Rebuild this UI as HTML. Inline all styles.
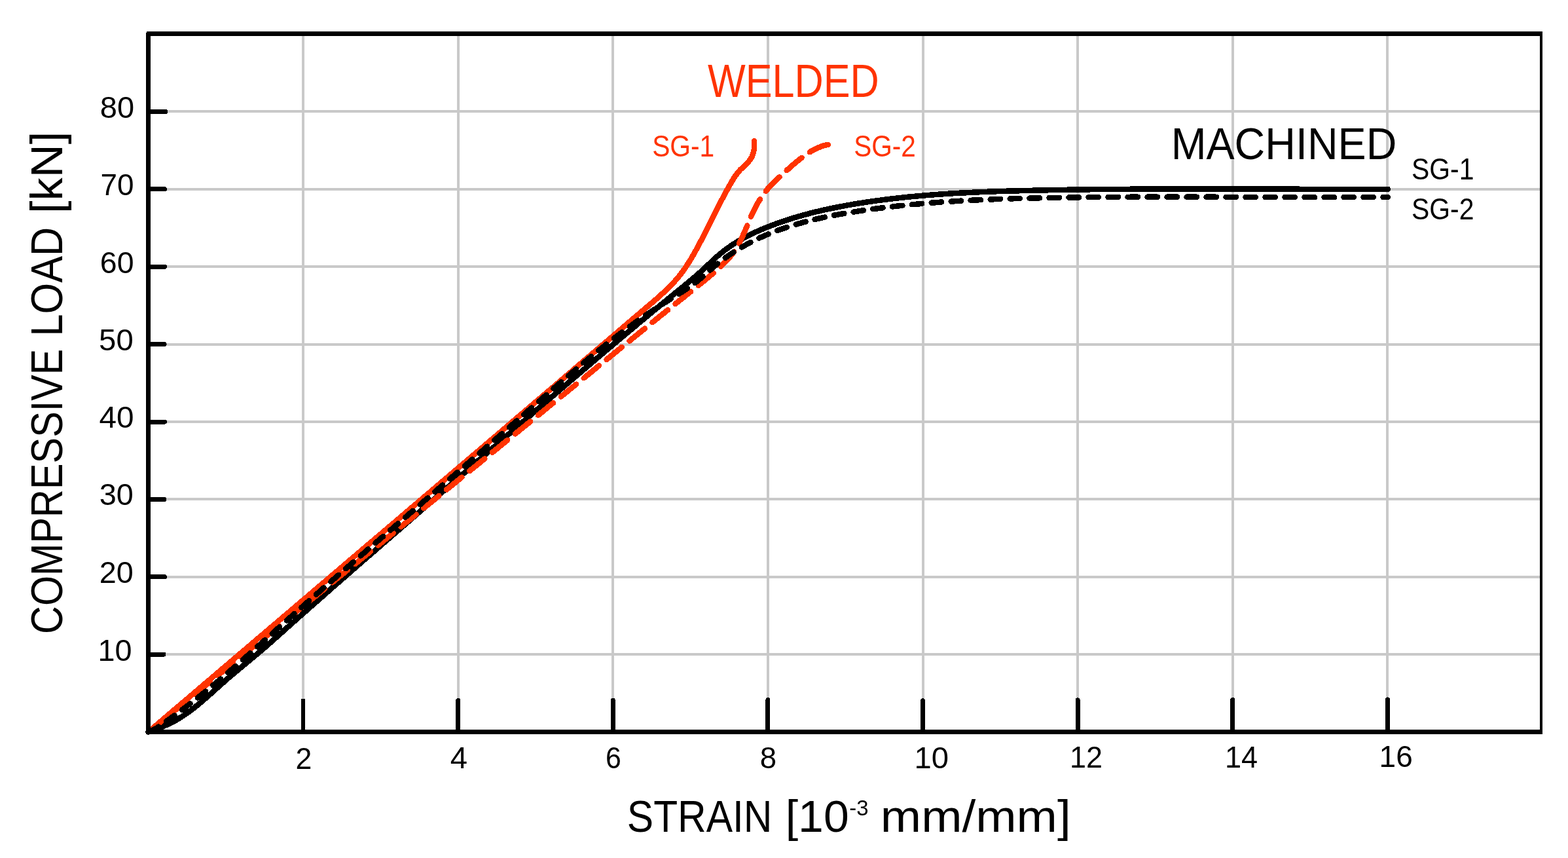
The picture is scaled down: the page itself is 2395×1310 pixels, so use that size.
<!DOCTYPE html>
<html lang="en"><head><meta charset="utf-8">
<title>Compressive load vs strain</title>
<style>html,body{margin:0;padding:0;background:#fff}body{width:2395px;height:1310px;overflow:hidden}svg{display:block}text{font-family:'Liberation Sans', sans-serif}</style>
</head><body>
<svg width="2395" height="1310" viewBox="0 0 2395 1310" shape-rendering="crispEdges">
<rect width="2395" height="1310" fill="#fff"/>
<path d="M226.5 999 H2354.0 M226.5 881 H2354.0 M226.5 762 H2354.0 M226.5 644 H2354.0 M226.5 526 H2354.0 M226.5 407 H2354.0 M226.5 289 H2354.0 M226.5 170 H2354.0 M463 51.5 V1117.6 M700 51.5 V1117.6 M936 51.5 V1117.6 M1173 51.5 V1117.6 M1410 51.5 V1117.6 M1646 51.5 V1117.6 M1883 51.5 V1117.6 M2119 51.5 V1117.6" fill="none" stroke="#c9c9c9" stroke-width="4"/>
<path d="M226.5 1117.6 C227.3 1116.9 229.9 1114.8 231.5 1113.4 C233.2 1111.9 234.9 1110.5 236.5 1109.1 C238.2 1107.7 239.9 1106.3 241.5 1104.8 C243.2 1103.4 244.9 1102.0 246.5 1100.6 C248.2 1099.2 249.9 1097.7 251.5 1096.3 C253.2 1094.9 254.9 1093.5 256.5 1092.0 C258.2 1090.6 259.9 1089.2 261.5 1087.8 C263.2 1086.4 264.9 1084.9 266.5 1083.5 C268.2 1082.1 269.9 1080.7 271.5 1079.3 C273.2 1077.8 274.9 1076.4 276.6 1075.0 C278.2 1073.6 279.9 1072.2 281.6 1070.7 C283.2 1069.3 284.9 1067.9 286.6 1066.5 C288.2 1065.0 289.9 1063.6 291.6 1062.2 C293.2 1060.8 294.9 1059.4 296.6 1057.9 C298.2 1056.5 299.9 1055.1 301.6 1053.7 C303.2 1052.3 304.9 1050.8 306.6 1049.4 C308.2 1048.0 309.9 1046.6 311.6 1045.2 C313.2 1043.7 314.9 1042.3 316.6 1040.9 C318.2 1039.5 319.9 1038.1 321.6 1036.6 C323.2 1035.2 324.9 1033.8 326.6 1032.4 C328.2 1031.0 329.9 1029.5 331.6 1028.1 C333.3 1026.7 334.9 1025.3 336.6 1023.8 C338.3 1022.4 339.9 1021.0 341.6 1019.6 C343.3 1018.2 344.9 1016.7 346.6 1015.3 C348.3 1013.9 349.9 1012.5 351.6 1011.1 C353.3 1009.6 354.9 1008.2 356.6 1006.8 C358.3 1005.4 359.9 1004.0 361.6 1002.5 C363.3 1001.1 364.9 999.7 366.6 998.3 C368.3 996.9 369.9 995.4 371.6 994.0 C373.3 992.6 375.0 991.2 376.6 989.8 C378.3 988.3 380.0 986.9 381.6 985.5 C383.3 984.1 385.0 982.7 386.6 981.2 C388.3 979.8 390.0 978.4 391.6 977.0 C393.3 975.6 395.0 974.1 396.6 972.7 C398.3 971.3 400.0 969.9 401.6 968.5 C403.3 967.0 405.0 965.6 406.7 964.2 C408.3 962.8 410.0 961.4 411.7 959.9 C413.3 958.5 415.0 957.1 416.7 955.7 C418.3 954.3 420.0 952.8 421.7 951.4 C423.3 950.0 425.0 948.6 426.7 947.2 C428.3 945.7 430.0 944.3 431.7 942.9 C433.3 941.5 435.0 940.1 436.7 938.6 C438.4 937.2 440.0 935.8 441.7 934.4 C443.4 933.0 445.0 931.5 446.7 930.1 C448.4 928.7 450.0 927.3 451.7 925.9 C453.4 924.4 455.0 923.0 456.7 921.6 C458.4 920.2 460.0 918.8 461.7 917.3 C463.4 915.9 465.0 914.5 466.7 913.1 C468.4 911.7 470.1 910.2 471.7 908.8 C473.4 907.4 475.1 906.0 476.7 904.6 C478.4 903.1 480.1 901.7 481.7 900.3 C483.4 898.9 485.1 897.5 486.7 896.0 C488.4 894.6 490.1 893.2 491.7 891.8 C493.4 890.4 495.1 888.9 496.8 887.5 C498.4 886.1 500.1 884.7 501.8 883.3 C503.4 881.8 505.1 880.4 506.8 879.0 C508.4 877.6 510.1 876.2 511.8 874.7 C513.4 873.3 515.1 871.9 516.8 870.5 C518.4 869.1 520.1 867.6 521.8 866.2 C523.5 864.8 525.1 863.4 526.8 862.0 C528.5 860.5 530.1 859.1 531.8 857.7 C533.5 856.3 535.1 854.9 536.8 853.4 C538.5 852.0 540.1 850.6 541.8 849.2 C543.5 847.8 545.1 846.3 546.8 844.9 C548.5 843.5 550.2 842.1 551.8 840.7 C553.5 839.2 555.2 837.8 556.8 836.4 C558.5 835.0 560.2 833.6 561.8 832.1 C563.5 830.7 565.2 829.3 566.8 827.9 C568.5 826.5 570.2 825.0 571.8 823.6 C573.5 822.2 575.2 820.8 576.9 819.4 C578.5 817.9 580.2 816.5 581.9 815.1 C583.5 813.7 585.2 812.3 586.9 810.8 C588.5 809.4 590.2 808.0 591.9 806.6 C593.5 805.2 595.2 803.7 596.9 802.3 C598.5 800.9 600.2 799.5 601.9 798.1 C603.5 796.6 605.2 795.2 606.9 793.8 C608.6 792.4 610.2 791.0 611.9 789.5 C613.6 788.1 615.2 786.7 616.9 785.3 C618.6 783.9 620.2 782.4 621.9 781.0 C623.6 779.6 625.2 778.2 626.9 776.8 C628.6 775.3 630.2 773.9 631.9 772.5 C633.6 771.1 635.3 769.7 636.9 768.2 C638.6 766.8 640.3 765.4 641.9 764.0 C643.6 762.6 645.3 761.1 646.9 759.7 C648.6 758.3 650.3 756.9 651.9 755.5 C653.6 754.0 655.3 752.6 656.9 751.2 C658.6 749.8 660.3 748.4 661.9 746.9 C663.6 745.5 665.3 744.1 667.0 742.7 C668.6 741.2 670.3 739.8 672.0 738.4 C673.6 737.0 675.3 735.6 677.0 734.1 C678.6 732.7 680.3 731.3 682.0 729.9 C683.6 728.5 685.3 727.0 687.0 725.6 C688.6 724.2 690.3 722.8 692.0 721.4 C693.6 719.9 695.3 718.5 697.0 717.1 C698.6 715.7 700.3 714.3 702.0 712.8 C703.7 711.4 705.3 710.0 707.0 708.6 C708.7 707.2 710.3 705.7 712.0 704.3 C713.7 702.9 715.3 701.5 717.0 700.1 C718.7 698.6 720.3 697.2 722.0 695.8 C723.7 694.4 725.3 693.0 727.0 691.5 C728.7 690.1 730.3 688.7 732.0 687.3 C733.7 685.9 735.3 684.4 737.0 683.0 C738.7 681.6 740.3 680.2 742.0 678.7 C743.7 677.3 745.4 675.9 747.0 674.5 C748.7 673.1 750.4 671.6 752.0 670.2 C753.7 668.8 755.4 667.4 757.0 666.0 C758.7 664.5 760.4 663.1 762.0 661.7 C763.7 660.3 765.4 658.9 767.0 657.4 C768.7 656.0 770.4 654.6 772.0 653.2 C773.7 651.8 775.4 650.3 777.0 648.9 C778.7 647.5 780.4 646.1 782.0 644.6 C783.7 643.2 785.4 641.8 787.0 640.4 C788.7 639.0 790.4 637.5 792.0 636.1 C793.7 634.7 795.4 633.3 797.0 631.9 C798.7 630.4 800.4 629.0 802.0 627.6 C803.7 626.2 805.4 624.8 807.0 623.3 C808.7 621.9 810.4 620.5 812.0 619.1 C813.7 617.6 815.4 616.2 817.0 614.8 C818.7 613.4 820.4 612.0 822.1 610.5 C823.7 609.1 825.4 607.7 827.1 606.3 C828.7 604.9 830.4 603.4 832.1 602.0 C833.7 600.6 835.4 599.2 837.1 597.7 C838.7 596.3 840.4 594.9 842.1 593.5 C843.7 592.1 845.4 590.6 847.1 589.2 C848.7 587.8 850.4 586.4 852.1 584.9 C853.7 583.5 855.4 582.1 857.1 580.7 C858.7 579.3 860.4 577.8 862.1 576.4 C863.7 575.0 865.4 573.6 867.1 572.2 C868.7 570.7 870.4 569.3 872.1 567.9 C873.7 566.5 875.4 565.0 877.0 563.6 C878.7 562.2 880.4 560.8 882.0 559.4 C883.7 557.9 885.4 556.5 887.0 555.1 C888.7 553.7 890.4 552.2 892.0 550.8 C893.7 549.4 895.4 548.0 897.0 546.6 C898.7 545.1 900.4 543.7 902.0 542.3 C903.7 540.9 905.4 539.4 907.0 538.0 C908.7 536.6 910.4 535.2 912.0 533.8 C913.7 532.3 915.4 530.9 917.0 529.5 C918.7 528.1 920.4 526.6 922.0 525.2 C923.7 523.8 925.4 522.4 927.0 521.0 C928.7 519.5 930.4 518.1 932.0 516.7 C933.7 515.3 935.4 513.8 937.0 512.4 C938.7 511.0 940.4 509.6 942.0 508.2 C943.7 506.7 945.4 505.3 947.0 503.9 C948.7 502.5 950.4 501.0 952.0 499.6 C953.7 498.2 955.4 496.8 957.0 495.3 C958.7 493.9 960.4 492.5 962.0 491.1 C963.7 489.7 965.4 488.2 967.0 486.8 C968.7 485.4 970.4 484.0 972.1 482.5 C973.7 481.1 975.4 479.7 977.1 478.3 C978.7 476.9 980.4 475.4 982.1 474.0 C983.8 472.6 985.4 471.2 987.1 469.7 C988.8 468.3 990.4 466.9 992.1 465.5 C993.8 464.1 995.5 462.6 997.1 461.2 C998.8 459.8 1000.5 458.3 1002.1 456.9 C1003.8 455.5 1005.4 454.0 1007.0 452.5 C1008.7 451.1 1010.3 449.6 1011.9 448.1 C1013.5 446.7 1015.1 445.2 1016.7 443.7 C1018.3 442.2 1019.9 440.6 1021.4 439.1 C1022.9 437.6 1024.5 436.0 1026.0 434.4 C1027.5 432.9 1029.0 431.3 1030.4 429.7 C1031.9 428.0 1033.3 426.4 1034.7 424.7 C1036.1 423.1 1037.5 421.4 1038.8 419.7 C1040.2 418.0 1041.5 416.2 1042.8 414.5 C1044.1 412.7 1045.3 410.9 1046.6 409.1 C1047.8 407.3 1049.0 405.5 1050.2 403.6 C1051.4 401.8 1052.6 399.9 1053.7 398.0 C1054.9 396.2 1056.0 394.3 1057.1 392.4 C1058.2 390.5 1059.3 388.6 1060.4 386.6 C1061.5 384.7 1062.6 382.8 1063.6 380.9 C1064.7 378.9 1065.7 377.0 1066.8 375.1 C1067.8 373.1 1068.8 371.2 1069.9 369.2 C1070.9 367.3 1071.9 365.3 1072.9 363.4 C1073.9 361.4 1074.9 359.5 1075.9 357.5 C1076.9 355.6 1077.9 353.6 1078.9 351.7 C1079.9 349.7 1080.9 347.8 1081.8 345.8 C1082.8 343.8 1083.8 341.9 1084.8 339.9 C1085.8 338.0 1086.7 336.0 1087.7 334.1 C1088.7 332.1 1089.7 330.2 1090.7 328.2 C1091.6 326.2 1092.6 324.3 1093.6 322.3 C1094.6 320.4 1095.6 318.4 1096.6 316.5 C1097.6 314.5 1098.5 312.6 1099.5 310.7 C1100.5 308.7 1101.6 306.8 1102.6 304.8 C1103.6 302.9 1104.6 301.0 1105.6 299.0 C1106.7 297.1 1107.7 295.2 1108.7 293.3 C1109.8 291.3 1110.8 289.4 1111.9 287.5 C1113.0 285.6 1114.0 283.7 1115.1 281.8 C1116.2 279.9 1117.3 278.0 1118.4 276.1 C1119.6 274.2 1120.7 272.3 1121.9 270.5 C1123.1 268.7 1124.4 266.9 1125.7 265.2 C1127.0 263.4 1128.5 261.8 1129.9 260.1 C1131.4 258.5 1133.1 257.0 1134.7 255.5 C1136.3 253.9 1137.9 252.4 1139.5 250.9 C1141.0 249.3 1142.6 247.8 1144.0 246.1 C1145.4 244.4 1146.6 242.7 1147.7 240.8 C1148.7 239.0 1149.6 236.9 1150.2 234.9 C1150.9 232.8 1151.4 230.6 1151.7 228.4 C1152.1 226.2 1152.2 224.0 1152.2 221.8 C1152.3 219.6 1152.0 216.3 1152.0 215.2" fill="none" stroke="#ff3300" stroke-width="8.5" stroke-linecap="round" stroke-linejoin="round"/>
<path d="M226.5 1117.6 C228.4 1116.9 234.0 1114.6 237.8 1113.1 C241.7 1111.7 245.7 1110.5 249.5 1109.0 C253.3 1107.5 256.9 1105.8 260.5 1104.0 C264.1 1102.3 267.6 1100.3 271.1 1098.3 C274.5 1096.3 277.9 1094.1 281.2 1091.9 C284.5 1089.7 287.8 1087.4 291.0 1085.0 C294.2 1082.6 297.3 1080.1 300.4 1077.6 C303.6 1075.1 306.6 1072.5 309.7 1069.9 C312.7 1067.3 315.8 1064.6 318.8 1062.0 C321.8 1059.3 324.8 1056.6 327.8 1053.9 C330.8 1051.2 333.8 1048.5 336.8 1045.8 C339.9 1043.1 342.9 1040.4 345.9 1037.7 C349.0 1035.1 352.0 1032.5 355.1 1029.9 C358.2 1027.2 361.3 1024.7 364.4 1022.1 C367.5 1019.5 370.6 1016.9 373.7 1014.4 C376.8 1011.8 379.9 1009.2 383.0 1006.7 C386.1 1004.1 389.2 1001.5 392.3 998.9 C395.4 996.3 398.5 993.7 401.5 991.1 C404.6 988.5 407.6 985.8 410.7 983.2 C413.7 980.5 416.7 977.8 419.7 975.2 C422.8 972.5 425.8 969.8 428.8 967.1 C431.8 964.4 434.8 961.7 437.8 959.0 C440.8 956.4 443.8 953.7 446.8 951.0 C449.9 948.3 452.9 945.6 455.9 942.9 C458.9 940.3 461.9 937.6 464.9 934.9 C468.0 932.2 471.0 929.6 474.0 926.9 C477.0 924.2 480.0 921.5 483.1 918.9 C486.1 916.2 489.1 913.5 492.2 910.9 C495.2 908.2 498.2 905.6 501.2 902.9 C504.3 900.2 507.3 897.6 510.3 894.9 C513.4 892.3 516.4 889.6 519.5 886.9 C522.5 884.3 525.5 881.6 528.6 879.0 C531.6 876.3 534.6 873.7 537.7 871.0 C540.7 868.4 543.8 865.7 546.8 863.1 C549.9 860.4 552.9 857.8 555.9 855.1 C559.0 852.5 562.0 849.8 565.1 847.2 C568.1 844.6 571.2 841.9 574.2 839.3 C577.3 836.6 580.3 834.0 583.4 831.3 C586.4 828.7 589.4 826.0 592.5 823.4 C595.5 820.8 598.6 818.1 601.6 815.5 C604.7 812.8 607.7 810.2 610.8 807.5 C613.8 804.9 616.9 802.3 619.9 799.6 C623.0 797.0 626.0 794.3 629.1 791.7 C632.1 789.0 635.2 786.4 638.2 783.7 C641.2 781.1 644.3 778.5 647.3 775.8 C650.4 773.2 653.4 770.5 656.5 767.9 C659.5 765.2 662.6 762.6 665.6 759.9 C668.6 757.3 671.7 754.6 674.7 752.0 C677.8 749.3 680.8 746.7 683.9 744.0 C686.9 741.4 689.9 738.7 693.0 736.1 C696.0 733.4 699.1 730.8 702.1 728.1 C705.2 725.5 708.2 722.8 711.2 720.2 C714.3 717.5 717.3 714.9 720.4 712.2 C723.4 709.6 726.4 706.9 729.5 704.3 C732.5 701.6 735.6 699.0 738.6 696.3 C741.7 693.7 744.7 691.0 747.7 688.4 C750.8 685.7 753.8 683.1 756.9 680.5 C759.9 677.8 763.0 675.2 766.0 672.5 C769.1 669.9 772.1 667.2 775.2 664.6 C778.2 661.9 781.2 659.3 784.3 656.6 C787.3 654.0 790.4 651.4 793.4 648.7 C796.5 646.1 799.5 643.4 802.6 640.8 C805.6 638.2 808.7 635.5 811.7 632.9 C814.8 630.2 817.8 627.6 820.9 625.0 C823.9 622.3 827.0 619.7 830.1 617.1 C833.1 614.4 836.2 611.8 839.2 609.1 C842.3 606.5 845.3 603.9 848.4 601.3 C851.5 598.6 854.5 596.0 857.6 593.4 C860.6 590.7 863.7 588.1 866.8 585.5 C869.8 582.9 872.9 580.2 876.0 577.6 C879.0 575.0 882.1 572.4 885.2 569.8 C888.2 567.1 891.3 564.5 894.4 561.9 C897.4 559.3 900.5 556.7 903.6 554.1 C906.7 551.5 909.7 548.8 912.8 546.2 C915.9 543.6 919.0 541.0 922.0 538.4 C925.1 535.8 928.2 533.2 931.3 530.6 C934.4 528.0 937.4 525.4 940.5 522.8 C943.6 520.2 946.7 517.6 949.8 515.0 C952.9 512.4 956.0 509.8 959.1 507.2 C962.2 504.7 965.3 502.1 968.3 499.5 C971.4 496.9 974.5 494.3 977.6 491.7 C980.7 489.2 983.8 486.6 986.9 484.0 C990.1 481.4 993.2 478.9 996.3 476.3 C999.4 473.7 1002.5 471.2 1005.6 468.6 C1008.7 466.0 1011.8 463.5 1014.9 460.9 C1018.1 458.3 1021.2 455.8 1024.3 453.2 C1027.4 450.7 1030.5 448.1 1033.7 445.6 C1036.8 443.0 1039.9 440.5 1043.1 437.9 C1046.2 435.4 1049.3 432.8 1052.4 430.3 C1055.5 427.7 1058.6 425.1 1061.7 422.5 C1064.7 419.9 1067.8 417.2 1070.7 414.5 C1073.7 411.8 1076.6 409.0 1079.6 406.3 C1082.5 403.5 1085.4 400.7 1088.4 398.0 C1091.3 395.3 1094.3 392.5 1097.3 389.9 C1100.4 387.3 1103.5 384.8 1106.6 382.4 C1109.8 379.9 1113.1 377.6 1116.4 375.3 C1119.7 373.1 1123.1 370.9 1126.5 368.8 C1129.9 366.8 1133.4 364.8 1136.9 362.9 C1140.5 360.9 1144.1 359.1 1147.7 357.3 C1151.4 355.6 1155.0 353.9 1158.8 352.3 C1162.5 350.6 1166.2 349.1 1170.0 347.5 C1173.7 346.0 1177.5 344.6 1181.3 343.2 C1185.1 341.7 1188.9 340.4 1192.7 339.0 C1196.5 337.7 1200.4 336.5 1204.2 335.2 C1208.1 334.0 1211.9 332.8 1215.8 331.6 C1219.7 330.5 1223.5 329.4 1227.4 328.3 C1231.3 327.3 1235.2 326.2 1239.1 325.2 C1243.0 324.2 1246.9 323.3 1250.9 322.3 C1254.8 321.4 1258.7 320.5 1262.7 319.7 C1266.6 318.8 1270.5 318.0 1274.5 317.2 C1278.5 316.4 1282.4 315.6 1286.4 314.9 C1290.3 314.1 1294.3 313.4 1298.3 312.7 C1302.2 312.0 1306.2 311.4 1310.2 310.7 C1314.2 310.1 1318.2 309.4 1322.2 308.8 C1326.1 308.2 1330.1 307.7 1334.1 307.1 C1338.1 306.5 1342.1 306.0 1346.1 305.5 C1350.1 304.9 1354.1 304.4 1358.1 303.9 C1362.1 303.5 1366.1 303.0 1370.1 302.5 C1374.1 302.1 1378.1 301.7 1382.1 301.2 C1386.1 300.8 1390.1 300.4 1394.1 300.0 C1398.1 299.7 1402.1 299.3 1406.2 298.9 C1410.2 298.6 1414.2 298.3 1418.2 297.9 C1422.2 297.6 1426.2 297.3 1430.3 297.0 C1434.3 296.7 1438.3 296.4 1442.3 296.2 C1446.4 295.9 1450.4 295.6 1454.4 295.4 C1458.4 295.1 1462.5 294.9 1466.5 294.7 C1470.5 294.5 1474.5 294.3 1478.6 294.1 C1482.6 293.9 1486.6 293.7 1490.7 293.5 C1494.7 293.3 1498.7 293.1 1502.8 293.0 C1506.8 292.8 1510.8 292.6 1514.9 292.5 C1518.9 292.4 1522.9 292.2 1527.0 292.1 C1531.0 292.0 1535.0 291.8 1539.1 291.7 C1543.1 291.6 1547.2 291.5 1551.2 291.4 C1555.2 291.3 1559.3 291.2 1563.3 291.1 C1567.3 291.0 1571.4 290.9 1575.4 290.8 C1579.4 290.7 1583.5 290.6 1587.5 290.5 C1591.6 290.4 1595.6 290.4 1599.6 290.3 C1603.7 290.2 1607.7 290.1 1611.7 290.1 C1615.8 290.0 1619.8 289.9 1623.8 289.9 C1627.9 289.8 1631.9 289.7 1635.9 289.7 C1640.0 289.6 1644.0 289.6 1648.0 289.5 C1652.1 289.4 1656.1 289.4 1660.2 289.3 C1664.2 289.3 1668.2 289.2 1672.3 289.2 C1676.3 289.2 1680.3 289.1 1684.4 289.1 C1688.4 289.0 1692.4 289.0 1696.5 289.0 C1700.5 288.9 1704.5 288.9 1708.6 288.9 C1712.6 288.8 1716.6 288.8 1720.7 288.8 C1724.7 288.8 1728.7 288.7 1732.8 288.7 C1736.8 288.7 1740.8 288.7 1744.9 288.6 C1748.9 288.6 1752.9 288.6 1757.0 288.6 C1761.0 288.6 1765.0 288.6 1769.1 288.6 C1773.1 288.5 1777.1 288.5 1781.2 288.5 C1785.2 288.5 1789.2 288.5 1793.3 288.5 C1797.3 288.5 1801.3 288.5 1805.3 288.5 C1809.4 288.5 1813.4 288.5 1817.4 288.5 C1821.5 288.5 1825.5 288.5 1829.5 288.5 C1833.6 288.5 1837.6 288.5 1841.6 288.5 C1845.7 288.5 1849.7 288.5 1853.7 288.5 C1857.8 288.5 1861.8 288.5 1865.8 288.5 C1869.9 288.5 1873.9 288.5 1877.9 288.5 C1882.0 288.5 1886.0 288.5 1890.0 288.5 C1894.1 288.5 1898.1 288.6 1902.1 288.6 C1906.2 288.6 1910.2 288.6 1914.2 288.6 C1918.3 288.6 1922.3 288.6 1926.3 288.6 C1930.4 288.6 1934.4 288.6 1938.4 288.6 C1942.5 288.7 1946.5 288.7 1950.5 288.7 C1954.6 288.7 1958.6 288.7 1962.6 288.7 C1966.7 288.7 1970.7 288.7 1974.7 288.7 C1978.8 288.7 1982.8 288.7 1986.8 288.8 C1990.9 288.8 1994.9 288.8 1998.9 288.8 C2003.0 288.8 2007.0 288.8 2011.1 288.8 C2015.1 288.8 2019.1 288.8 2023.2 288.8 C2027.2 288.8 2031.2 288.8 2035.3 288.8 C2039.3 288.8 2043.3 288.8 2047.4 288.8 C2051.4 288.8 2055.4 288.8 2059.5 288.8 C2063.5 288.8 2067.6 288.8 2071.6 288.8 C2075.6 288.8 2079.7 288.8 2083.7 288.8 C2087.7 288.8 2091.8 288.8 2095.8 288.8 C2099.9 288.8 2103.9 288.8 2107.9 288.8 C2112.0 288.8 2118.0 288.8 2120.0 288.8" fill="none" stroke="#000" stroke-width="8.5" stroke-linecap="round" stroke-linejoin="round"/>
<path d="M226.5 1117.6 C227.4 1116.9 230.1 1114.7 231.9 1113.2 C233.7 1111.8 235.5 1110.3 237.3 1108.9 C239.1 1107.4 240.9 1105.9 242.7 1104.5 C244.5 1103.0 246.3 1101.6 248.1 1100.1 C249.9 1098.6 251.7 1097.2 253.5 1095.7 C255.3 1094.2 257.1 1092.8 258.9 1091.3 C260.7 1089.9 262.5 1088.4 264.3 1086.9 C266.1 1085.5 267.9 1084.0 269.7 1082.5 C271.5 1081.1 273.3 1079.6 275.1 1078.2 C276.9 1076.7 278.7 1075.2 280.5 1073.8 C282.3 1072.3 284.0 1070.9 285.8 1069.4 C287.6 1067.9 289.4 1066.5 291.2 1065.0 C293.0 1063.6 294.8 1062.1 296.6 1060.6 C298.4 1059.2 300.2 1057.7 302.0 1056.2 C303.8 1054.8 305.6 1053.3 307.4 1051.9 C309.2 1050.4 311.0 1048.9 312.8 1047.5 C314.6 1046.0 316.4 1044.6 318.2 1043.1 C320.0 1041.6 321.8 1040.2 323.6 1038.7 C325.4 1037.2 327.2 1035.8 329.0 1034.3 C330.8 1032.9 332.6 1031.4 334.4 1029.9 C336.2 1028.5 338.0 1027.0 339.8 1025.6 C341.6 1024.1 343.4 1022.6 345.2 1021.2 C347.0 1019.7 348.8 1018.3 350.6 1016.8 C352.4 1015.3 354.2 1013.9 356.0 1012.4 C357.8 1011.0 359.6 1009.5 361.4 1008.0 C363.2 1006.6 365.0 1005.1 366.8 1003.6 C368.6 1002.2 370.4 1000.7 372.2 999.3 C374.0 997.8 375.8 996.3 377.6 994.9 C379.4 993.4 381.2 992.0 382.9 990.5 C384.7 989.0 386.5 987.6 388.3 986.1 C390.1 984.7 391.9 983.2 393.7 981.7 C395.5 980.3 397.3 978.8 399.1 977.4 C400.9 975.9 402.7 974.4 404.5 973.0 C406.3 971.5 408.1 970.1 409.9 968.6 C411.7 967.1 413.5 965.7 415.3 964.2 C417.1 962.7 418.9 961.3 420.7 959.8 C422.5 958.4 424.3 956.9 426.1 955.4 C427.9 954.0 429.7 952.5 431.5 951.1 C433.3 949.6 435.1 948.1 436.9 946.7 C438.7 945.2 440.5 943.8 442.3 942.3 C444.1 940.8 445.9 939.4 447.7 937.9 C449.5 936.5 451.3 935.0 453.1 933.5 C454.9 932.1 456.7 930.6 458.5 929.2 C460.3 927.7 462.1 926.2 463.9 924.8 C465.7 923.3 467.5 921.9 469.3 920.4 C471.1 918.9 472.9 917.5 474.7 916.0 C476.5 914.6 478.3 913.1 480.1 911.6 C481.9 910.2 483.7 908.7 485.5 907.3 C487.3 905.8 489.1 904.3 490.9 902.9 C492.7 901.4 494.5 900.0 496.3 898.5 C498.1 897.0 499.9 895.6 501.7 894.1 C503.5 892.6 505.2 891.2 507.0 889.7 C508.8 888.3 510.6 886.8 512.4 885.3 C514.2 883.9 516.0 882.4 517.8 881.0 C519.6 879.5 521.4 878.0 523.2 876.6 C525.0 875.1 526.8 873.7 528.6 872.2 C530.4 870.7 532.2 869.3 534.0 867.8 C535.8 866.4 537.6 864.9 539.4 863.4 C541.2 862.0 543.0 860.5 544.8 859.1 C546.6 857.6 548.4 856.1 550.2 854.7 C552.0 853.2 553.8 851.8 555.6 850.3 C557.4 848.8 559.2 847.4 561.0 845.9 C562.8 844.5 564.6 843.0 566.4 841.5 C568.2 840.1 570.0 838.6 571.8 837.2 C573.6 835.7 575.4 834.2 577.2 832.8 C579.0 831.3 580.8 829.9 582.6 828.4 C584.4 826.9 586.2 825.5 588.0 824.0 C589.8 822.6 591.6 821.1 593.4 819.6 C595.2 818.2 597.0 816.7 598.8 815.3 C600.6 813.8 602.4 812.3 604.2 810.9 C606.0 809.4 607.8 807.9 609.6 806.5 C611.4 805.0 613.2 803.6 615.0 802.1 C616.8 800.6 618.6 799.2 620.4 797.7 C622.2 796.3 624.0 794.8 625.8 793.3 C627.6 791.9 629.4 790.4 631.2 789.0 C633.0 787.5 634.8 786.0 636.5 784.6 C638.3 783.1 640.1 781.7 641.9 780.2 C643.7 778.7 645.5 777.3 647.3 775.8 C649.1 774.4 650.9 772.9 652.7 771.4 C654.5 770.0 656.3 768.5 658.1 767.1 C659.9 765.6 661.7 764.1 663.5 762.7 C665.3 761.2 667.1 759.8 668.9 758.3 C670.7 756.8 672.5 755.4 674.3 753.9 C676.1 752.5 677.9 751.0 679.7 749.5 C681.5 748.1 683.3 746.6 685.1 745.1 C686.9 743.7 688.7 742.2 690.5 740.8 C692.3 739.3 694.1 737.8 695.9 736.4 C697.7 734.9 699.5 733.5 701.3 732.0 C703.1 730.5 704.9 729.1 706.7 727.6 C708.5 726.2 710.3 724.7 712.1 723.2 C713.9 721.8 715.7 720.3 717.5 718.9 C719.3 717.4 721.1 715.9 722.9 714.5 C724.7 713.0 726.5 711.6 728.3 710.1 C730.1 708.6 731.9 707.2 733.7 705.7 C735.5 704.2 737.3 702.8 739.1 701.3 C740.9 699.9 742.7 698.4 744.5 696.9 C746.3 695.5 748.0 694.0 749.8 692.6 C751.6 691.1 753.4 689.6 755.2 688.2 C757.0 686.7 758.8 685.3 760.6 683.8 C762.4 682.3 764.2 680.9 766.0 679.4 C767.8 677.9 769.6 676.5 771.4 675.0 C773.2 673.6 775.0 672.1 776.8 670.6 C778.6 669.2 780.4 667.7 782.2 666.3 C784.0 664.8 785.8 663.3 787.6 661.9 C789.4 660.4 791.2 659.0 793.0 657.5 C794.8 656.0 796.6 654.6 798.4 653.1 C800.2 651.6 802.0 650.2 803.8 648.7 C805.6 647.3 807.4 645.8 809.2 644.3 C811.0 642.9 812.8 641.4 814.6 640.0 C816.4 638.5 818.2 637.0 820.0 635.6 C821.8 634.1 823.6 632.6 825.4 631.2 C827.2 629.7 829.0 628.3 830.8 626.8 C832.6 625.3 834.4 623.9 836.2 622.4 C837.9 621.0 839.7 619.5 841.5 618.0 C843.3 616.6 845.1 615.1 846.9 613.6 C848.7 612.2 850.5 610.7 852.3 609.3 C854.1 607.8 855.9 606.3 857.7 604.9 C859.5 603.4 861.3 602.0 863.1 600.5 C864.9 599.0 866.7 597.6 868.5 596.1 C870.3 594.6 872.1 593.2 873.9 591.7 C875.7 590.3 877.5 588.8 879.3 587.3 C881.1 585.9 882.9 584.4 884.7 582.9 C886.5 581.5 888.3 580.0 890.1 578.6 C891.9 577.1 893.7 575.6 895.5 574.2 C897.3 572.7 899.1 571.2 900.9 569.8 C902.7 568.3 904.5 566.9 906.3 565.4 C908.1 563.9 909.8 562.5 911.6 561.0 C913.4 559.5 915.2 558.1 917.0 556.6 C918.8 555.2 920.6 553.7 922.4 552.2 C924.2 550.8 926.0 549.3 927.8 547.9 C929.6 546.4 931.4 544.9 933.2 543.5 C935.0 542.0 936.8 540.5 938.6 539.1 C940.4 537.6 942.2 536.2 944.0 534.7 C945.8 533.2 947.6 531.8 949.4 530.3 C951.2 528.9 953.0 527.4 954.8 525.9 C956.6 524.5 958.4 523.0 960.2 521.6 C962.0 520.1 963.8 518.6 965.6 517.2 C967.4 515.7 969.2 514.3 971.0 512.8 C972.8 511.4 974.6 509.9 976.4 508.4 C978.2 507.0 980.0 505.5 981.8 504.1 C983.6 502.6 985.4 501.2 987.2 499.7 C989.0 498.2 990.8 496.8 992.6 495.3 C994.4 493.9 996.2 492.4 998.0 491.0 C999.8 489.5 1001.6 488.1 1003.4 486.6 C1005.2 485.2 1007.0 483.7 1008.8 482.2 C1010.6 480.8 1012.5 479.3 1014.3 477.9 C1016.1 476.4 1017.9 475.0 1019.7 473.5 C1021.5 472.1 1023.3 470.6 1025.1 469.2 C1026.9 467.7 1028.7 466.3 1030.5 464.8 C1032.3 463.4 1034.1 461.9 1035.9 460.5 C1037.7 459.0 1039.5 457.6 1041.4 456.2 C1043.2 454.7 1045.0 453.3 1046.8 451.8 C1048.6 450.4 1050.4 448.9 1052.2 447.5 C1054.0 446.0 1055.8 444.6 1057.6 443.1 C1059.5 441.7 1061.3 440.3 1063.1 438.8 C1064.9 437.4 1066.7 435.9 1068.5 434.4 C1070.3 433.0 1072.1 431.5 1073.9 430.1 C1075.7 428.6 1077.4 427.1 1079.2 425.6 C1081.0 424.2 1082.8 422.7 1084.6 421.2 C1086.3 419.7 1088.1 418.1 1089.8 416.6 C1091.6 415.1 1093.3 413.6 1095.1 412.0 C1096.8 410.5 1098.5 408.9 1100.2 407.3 C1101.9 405.7 1103.6 404.1 1105.2 402.5 C1106.9 400.8 1108.5 399.2 1110.1 397.5 C1111.7 395.8 1113.3 394.1 1114.8 392.4 C1116.3 390.7 1117.8 388.9 1119.2 387.1 C1120.6 385.2 1121.9 383.4 1123.2 381.5 C1124.4 379.5 1125.6 377.6 1126.8 375.6 C1127.9 373.6 1129.0 371.6 1130.1 369.5 C1131.1 367.5 1132.1 365.4 1133.1 363.3 C1134.1 361.2 1135.0 359.1 1135.9 356.9 C1136.9 354.8 1137.8 352.7 1138.7 350.5 C1139.6 348.4 1140.5 346.3 1141.4 344.1 C1142.3 342.0 1143.2 339.8 1144.1 337.7 C1145.0 335.6 1145.9 333.4 1146.9 331.3 C1147.8 329.2 1148.7 327.1 1149.7 324.9 C1150.7 322.8 1151.7 320.8 1152.8 318.7 C1153.8 316.6 1154.9 314.6 1156.0 312.5 C1157.1 310.5 1158.3 308.5 1159.5 306.5 C1160.7 304.6 1161.9 302.6 1163.2 300.7 C1164.5 298.8 1165.8 296.9 1167.2 295.1 C1168.6 293.3 1170.0 291.5 1171.5 289.7 C1173.0 287.9 1174.6 286.2 1176.1 284.5 C1177.7 282.8 1179.3 281.2 1181.0 279.5 C1182.6 277.9 1184.3 276.3 1185.9 274.7 C1187.6 273.1 1189.3 271.5 1191.0 269.9 C1192.7 268.3 1194.4 266.7 1196.1 265.2 C1197.8 263.6 1199.5 262.0 1201.3 260.5 C1203.0 259.0 1204.7 257.4 1206.5 255.9 C1208.2 254.4 1209.9 252.8 1211.7 251.3 C1213.5 249.8 1215.2 248.3 1217.0 246.8 C1218.8 245.3 1220.6 243.9 1222.5 242.4 C1224.3 241.0 1226.1 239.6 1228.0 238.2 C1229.9 236.9 1231.8 235.6 1233.7 234.3 C1235.6 233.0 1237.6 231.8 1239.6 230.6 C1241.6 229.5 1243.6 228.4 1245.7 227.4 C1247.7 226.4 1249.8 225.4 1252.0 224.6 C1254.1 223.7 1256.3 222.9 1258.6 222.3 C1260.8 221.6 1264.3 220.9 1265.4 220.6" fill="none" stroke="#ff3300" stroke-width="8.5" stroke-linecap="round" stroke-linejoin="round" stroke-dasharray="30 15" stroke-dashoffset="-2"/>
<path d="M226.5 1117.6 C228.3 1116.7 234.1 1114.4 237.6 1112.5 C241.1 1110.5 244.3 1108.0 247.6 1105.7 C250.9 1103.4 254.2 1101.1 257.5 1098.8 C260.8 1096.5 264.1 1094.1 267.3 1091.7 C270.6 1089.4 273.8 1087.0 277.0 1084.6 C280.3 1082.2 283.5 1079.7 286.7 1077.3 C289.9 1074.8 293.1 1072.4 296.2 1069.9 C299.4 1067.4 302.6 1064.9 305.7 1062.4 C308.9 1059.9 312.0 1057.3 315.1 1054.8 C318.2 1052.2 321.4 1049.7 324.5 1047.1 C327.6 1044.5 330.7 1041.9 333.8 1039.3 C336.9 1036.7 339.9 1034.1 343.0 1031.5 C346.1 1028.9 349.1 1026.3 352.2 1023.6 C355.3 1021.0 358.3 1018.3 361.4 1015.7 C364.4 1013.0 367.4 1010.4 370.5 1007.7 C373.5 1005.0 376.5 1002.3 379.6 999.7 C382.6 997.0 385.6 994.3 388.6 991.6 C391.7 988.9 394.7 986.2 397.7 983.5 C400.7 980.8 403.7 978.1 406.7 975.4 C409.8 972.7 412.8 970.0 415.8 967.3 C418.8 964.6 421.8 961.9 424.8 959.2 C427.8 956.5 430.9 953.8 433.9 951.1 C436.9 948.4 439.9 945.7 442.9 943.0 C446.0 940.3 449.0 937.6 452.0 935.0 C455.0 932.3 458.1 929.6 461.1 926.9 C464.1 924.2 467.1 921.6 470.2 918.9 C473.2 916.2 476.3 913.5 479.3 910.9 C482.3 908.2 485.4 905.5 488.4 902.9 C491.4 900.2 494.5 897.5 497.5 894.9 C500.6 892.2 503.6 889.6 506.7 886.9 C509.7 884.3 512.8 881.6 515.8 879.0 C518.9 876.3 521.9 873.7 525.0 871.0 C528.0 868.4 531.1 865.7 534.1 863.1 C537.2 860.4 540.2 857.8 543.3 855.1 C546.3 852.5 549.4 849.8 552.5 847.2 C555.5 844.6 558.6 841.9 561.6 839.3 C564.7 836.7 567.8 834.0 570.8 831.4 C573.9 828.7 576.9 826.1 580.0 823.5 C583.1 820.8 586.1 818.2 589.2 815.6 C592.2 812.9 595.3 810.3 598.4 807.7 C601.4 805.0 604.5 802.4 607.5 799.8 C610.6 797.1 613.7 794.5 616.7 791.8 C619.8 789.2 622.9 786.6 625.9 783.9 C629.0 781.3 632.0 778.7 635.1 776.0 C638.2 773.4 641.2 770.8 644.3 768.1 C647.3 765.5 650.4 762.9 653.5 760.2 C656.5 757.6 659.6 754.9 662.6 752.3 C665.7 749.7 668.8 747.0 671.8 744.4 C674.9 741.8 677.9 739.1 681.0 736.5 C684.0 733.8 687.1 731.2 690.2 728.6 C693.2 725.9 696.3 723.3 699.3 720.6 C702.4 718.0 705.4 715.3 708.5 712.7 C711.5 710.1 714.6 707.4 717.7 704.8 C720.7 702.1 723.8 699.5 726.8 696.8 C729.9 694.2 732.9 691.5 736.0 688.9 C739.0 686.2 742.1 683.6 745.1 680.9 C748.2 678.3 751.2 675.6 754.3 673.0 C757.3 670.3 760.4 667.7 763.4 665.0 C766.5 662.4 769.5 659.7 772.6 657.0 C775.6 654.4 778.7 651.7 781.7 649.1 C784.8 646.4 787.8 643.7 790.9 641.1 C793.9 638.4 796.9 635.8 800.0 633.1 C803.0 630.4 806.1 627.8 809.1 625.1 C812.2 622.4 815.2 619.8 818.2 617.1 C821.3 614.4 824.3 611.8 827.4 609.1 C830.4 606.4 833.5 603.8 836.5 601.1 C839.6 598.4 842.6 595.8 845.7 593.1 C848.7 590.5 851.8 587.8 854.8 585.2 C857.9 582.5 861.0 579.9 864.0 577.2 C867.1 574.6 870.2 572.0 873.2 569.4 C876.3 566.7 879.4 564.1 882.5 561.5 C885.6 558.9 888.7 556.3 891.8 553.7 C894.9 551.1 898.0 548.6 901.1 546.0 C904.2 543.4 907.3 540.9 910.5 538.3 C913.6 535.8 916.8 533.3 919.9 530.7 C923.1 528.2 926.2 525.7 929.4 523.2 C932.6 520.7 935.7 518.3 938.9 515.8 C942.1 513.3 945.3 510.9 948.6 508.5 C951.8 506.0 955.0 503.6 958.2 501.2 C961.5 498.8 964.7 496.5 968.0 494.1 C971.3 491.8 974.5 489.4 977.8 487.1 C981.1 484.8 984.4 482.5 987.8 480.2 C991.1 477.9 994.4 475.7 997.8 473.5 C1001.1 471.2 1004.5 469.0 1007.9 466.8 C1011.3 464.6 1014.7 462.5 1018.1 460.4 C1021.5 458.2 1025.0 456.1 1028.4 454.0 C1031.8 451.9 1035.3 449.8 1038.7 447.6 C1042.1 445.4 1045.5 443.3 1048.8 441.0 C1052.2 438.8 1055.5 436.5 1058.7 434.1 C1062.0 431.7 1065.1 429.3 1068.2 426.7 C1071.4 424.2 1074.4 421.5 1077.4 418.8 C1080.4 416.1 1083.4 413.4 1086.5 410.7 C1089.5 408.1 1092.6 405.4 1095.7 402.9 C1098.9 400.4 1102.1 397.9 1105.3 395.5 C1108.5 393.1 1111.8 390.8 1115.2 388.5 C1118.5 386.3 1121.9 384.1 1125.3 382.0 C1128.8 379.8 1132.2 377.8 1135.8 375.8 C1139.3 373.8 1142.8 371.9 1146.4 370.0 C1150.0 368.2 1153.6 366.4 1157.2 364.7 C1160.9 363.0 1164.5 361.3 1168.2 359.7 C1171.9 358.1 1175.6 356.6 1179.4 355.1 C1183.1 353.6 1186.9 352.2 1190.7 350.8 C1194.5 349.4 1198.3 348.1 1202.1 346.9 C1205.9 345.6 1209.8 344.4 1213.6 343.3 C1217.5 342.1 1221.4 341.0 1225.3 339.9 C1229.2 338.9 1233.1 337.8 1237.0 336.8 C1240.9 335.9 1244.8 334.9 1248.8 334.0 C1252.7 333.1 1256.7 332.3 1260.7 331.4 C1264.6 330.6 1268.6 329.8 1272.6 329.0 C1276.6 328.2 1280.6 327.5 1284.6 326.8 C1288.6 326.1 1292.6 325.4 1296.6 324.7 C1300.6 324.1 1304.6 323.4 1308.6 322.8 C1312.6 322.2 1316.6 321.6 1320.6 321.0 C1324.6 320.4 1328.6 319.9 1332.7 319.3 C1336.7 318.8 1340.7 318.2 1344.7 317.7 C1348.7 317.2 1352.7 316.7 1356.7 316.2 C1360.8 315.7 1364.8 315.3 1368.8 314.8 C1372.8 314.4 1376.8 314.0 1380.9 313.5 C1384.9 313.1 1388.9 312.7 1392.9 312.3 C1396.9 311.9 1401.0 311.6 1405.0 311.2 C1409.0 310.9 1413.0 310.5 1417.1 310.2 C1421.1 309.8 1425.1 309.5 1429.2 309.2 C1433.2 308.9 1437.2 308.6 1441.2 308.3 C1445.3 308.1 1449.3 307.8 1453.3 307.5 C1457.4 307.3 1461.4 307.0 1465.4 306.8 C1469.4 306.6 1473.5 306.3 1477.5 306.1 C1481.5 305.9 1485.6 305.7 1489.6 305.5 C1493.6 305.3 1497.7 305.1 1501.7 305.0 C1505.7 304.8 1509.8 304.6 1513.8 304.4 C1517.8 304.3 1521.9 304.1 1525.9 304.0 C1530.0 303.8 1534.0 303.7 1538.0 303.6 C1542.1 303.5 1546.1 303.3 1550.1 303.2 C1554.2 303.1 1558.2 303.0 1562.3 302.9 C1566.3 302.8 1570.3 302.7 1574.4 302.6 C1578.4 302.5 1582.4 302.4 1586.5 302.3 C1590.5 302.3 1594.6 302.2 1598.6 302.1 C1602.6 302.0 1606.7 302.0 1610.7 301.9 C1614.8 301.8 1618.8 301.8 1622.8 301.7 C1626.9 301.6 1630.9 301.6 1635.0 301.5 C1639.0 301.5 1643.0 301.4 1647.1 301.4 C1651.1 301.3 1655.2 301.3 1659.2 301.2 C1663.2 301.2 1667.3 301.2 1671.3 301.1 C1675.4 301.1 1679.4 301.0 1683.5 301.0 C1687.5 301.0 1691.5 300.9 1695.6 300.9 C1699.6 300.9 1703.7 300.9 1707.7 300.8 C1711.8 300.8 1715.8 300.8 1719.8 300.8 C1723.9 300.8 1727.9 300.7 1732.0 300.7 C1736.0 300.7 1740.0 300.7 1744.1 300.7 C1748.1 300.7 1752.2 300.7 1756.2 300.7 C1760.3 300.7 1764.3 300.7 1768.3 300.7 C1772.4 300.6 1776.4 300.6 1780.5 300.6 C1784.5 300.6 1788.6 300.6 1792.6 300.6 C1796.6 300.6 1800.7 300.6 1804.7 300.7 C1808.8 300.7 1812.8 300.7 1816.9 300.7 C1820.9 300.7 1824.9 300.7 1829.0 300.7 C1833.0 300.7 1837.1 300.7 1841.1 300.7 C1845.2 300.7 1849.2 300.7 1853.2 300.7 C1857.3 300.8 1861.3 300.8 1865.4 300.8 C1869.4 300.8 1873.5 300.8 1877.5 300.8 C1881.5 300.8 1885.6 300.8 1889.6 300.9 C1893.7 300.9 1897.7 300.9 1901.8 300.9 C1905.8 300.9 1909.8 300.9 1913.9 300.9 C1917.9 300.9 1922.0 301.0 1926.0 301.0 C1930.1 301.0 1934.1 301.0 1938.1 301.0 C1942.2 301.0 1946.2 301.0 1950.3 301.0 C1954.3 301.1 1958.4 301.1 1962.4 301.1 C1966.4 301.1 1970.5 301.1 1974.5 301.1 C1978.6 301.1 1982.6 301.1 1986.6 301.1 C1990.7 301.1 1994.7 301.1 1998.8 301.2 C2002.8 301.2 2006.9 301.2 2010.9 301.2 C2014.9 301.2 2019.0 301.2 2023.0 301.2 C2027.1 301.2 2031.1 301.2 2035.1 301.2 C2039.2 301.2 2043.2 301.2 2047.3 301.2 C2051.3 301.2 2055.3 301.1 2059.4 301.1 C2063.4 301.1 2067.5 301.1 2071.5 301.1 C2075.5 301.1 2079.6 301.1 2083.6 301.1 C2087.7 301.0 2091.7 301.0 2095.7 301.0 C2099.8 301.0 2103.8 300.9 2107.9 300.9 C2111.9 301.0 2118.0 301.1 2120.0 301.1" fill="none" stroke="#000" stroke-width="8.5" stroke-linecap="round" stroke-linejoin="round" stroke-dasharray="15.5 14.5" stroke-dashoffset="-2"/>
<path d="M226.5 999.2 H250.0 M226.5 880.8 H251.6 M226.5 762.4 H250.9 M226.5 644.0 H251.6 M226.5 525.6 H251.1 M226.5 407.2 H251.6 M226.5 288.8 H251.6 M226.5 170.4 H252.9" fill="none" stroke="#000" stroke-width="7.0" stroke-linecap="round"/>
<path d="M463.1 1117.6 V1067" fill="none" stroke="#000" stroke-width="6.2"/>
<path d="M699.7 1117.6 V1069.6 M936.3 1117.6 V1069.3 M1172.9 1117.6 V1068.5 M1409.5 1117.6 V1069.5 M1646.1 1117.6 V1068.9 M1882.7 1117.6 V1068.5 M2119.3 1117.6 V1067.9" fill="none" stroke="#000" stroke-width="7.0" stroke-linecap="round"/>
<path d="M2356 51.45 H226.5 V1117.5 H2356" fill="none" stroke="#000" stroke-width="6.9" stroke-linejoin="round"/><path d="M2354 48 V1120.95" fill="none" stroke="#000" stroke-width="4"/>
<text x="152.86" textLength="52.26" lengthAdjust="spacingAndGlyphs" y="180.10" font-size="46.0" fill="#000">80</text>
<text x="153.50" textLength="51.06" lengthAdjust="spacingAndGlyphs" y="298.30" font-size="46.0" fill="#000">70</text>
<text x="152.88" textLength="51.72" lengthAdjust="spacingAndGlyphs" y="417.10" font-size="46.0" fill="#000">60</text>
<text x="151.14" textLength="52.59" lengthAdjust="spacingAndGlyphs" y="535.30" font-size="46.0" fill="#000">50</text>
<text x="151.56" textLength="53.09" lengthAdjust="spacingAndGlyphs" y="652.90" font-size="46.0" fill="#000">40</text>
<text x="151.67" textLength="52.04" lengthAdjust="spacingAndGlyphs" y="771.30" font-size="46.0" fill="#000">30</text>
<text x="151.67" textLength="52.04" lengthAdjust="spacingAndGlyphs" y="889.90" font-size="46.0" fill="#000">20</text>
<text x="149.64" textLength="51.97" lengthAdjust="spacingAndGlyphs" y="1009.40" font-size="46.0" fill="#000">10</text>
<text x="451.46" textLength="24.86" lengthAdjust="spacingAndGlyphs" y="1174.10" font-size="46.0" fill="#000">2</text>
<text x="687.77" textLength="26.26" lengthAdjust="spacingAndGlyphs" y="1173.40" font-size="46.0" fill="#000">4</text>
<text x="924.94" textLength="23.85" lengthAdjust="spacingAndGlyphs" y="1173.40" font-size="46.0" fill="#000">6</text>
<text x="1160.72" textLength="25.36" lengthAdjust="spacingAndGlyphs" y="1172.60" font-size="46.0" fill="#000">8</text>
<text x="1396.59" textLength="52.54" lengthAdjust="spacingAndGlyphs" y="1173.40" font-size="46.0" fill="#000">10</text>
<text x="1633.89" textLength="50.03" lengthAdjust="spacingAndGlyphs" y="1172.30" font-size="46.0" fill="#000">12</text>
<text x="1870.98" textLength="50.17" lengthAdjust="spacingAndGlyphs" y="1172.30" font-size="46.0" fill="#000">14</text>
<text x="2106.60" textLength="51.17" lengthAdjust="spacingAndGlyphs" y="1171.40" font-size="46.0" fill="#000">16</text>
<text x="1081.10" textLength="261.54" lengthAdjust="spacingAndGlyphs" y="148.10" font-size="69.9" fill="#ff3300">WELDED</text>
<text x="1788.65" textLength="344.71" lengthAdjust="spacingAndGlyphs" y="243.00" font-size="68.7" fill="#000">MACHINED</text>
<text x="996.13" textLength="95.07" lengthAdjust="spacingAndGlyphs" y="239.10" font-size="46.0" fill="#ff3300">SG-1</text>
<text x="1304.24" textLength="94.55" lengthAdjust="spacingAndGlyphs" y="239.10" font-size="46.0" fill="#ff3300">SG-2</text>
<text x="2156.02" textLength="95.39" lengthAdjust="spacingAndGlyphs" y="274.30" font-size="46.0" fill="#000">SG-1</text>
<text x="2156.02" textLength="95.39" lengthAdjust="spacingAndGlyphs" y="334.50" font-size="46.0" fill="#000">SG-2</text>
<text y="1270.00" font-size="68.7" fill="#000" xml:space="preserve"><tspan x="957.86" textLength="221.62" lengthAdjust="spacingAndGlyphs">STRAIN</tspan> <tspan x="1199.72" textLength="97.02" lengthAdjust="spacingAndGlyphs">[10</tspan><tspan x="1297.20" dy="-24.90" font-size="33" textLength="29.24" lengthAdjust="spacingAndGlyphs">-3</tspan> <tspan x="1344.85" dy="24.90" textLength="290.84" lengthAdjust="spacingAndGlyphs">mm/mm]</tspan></text>
<text transform="translate(95.00 964.00) rotate(-90)" font-size="68.7" fill="#000" xml:space="preserve"><tspan x="-3.96" textLength="435.40" lengthAdjust="spacingAndGlyphs">COMPRESSIVE</tspan> <tspan x="450.55" textLength="166.66" lengthAdjust="spacingAndGlyphs">LOAD</tspan> <tspan x="637.97" textLength="125.29" lengthAdjust="spacingAndGlyphs">[kN]</tspan></text>
</svg>
</body></html>
